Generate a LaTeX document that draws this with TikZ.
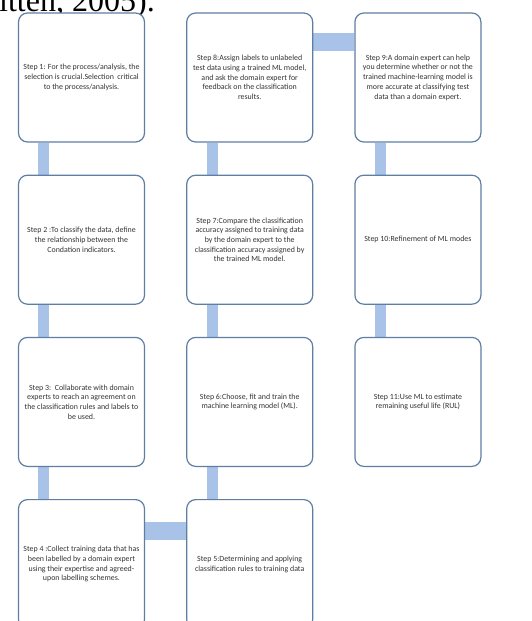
\documentclass[tikz,border=0pt]{standalone}
\usepackage{fontspec}
\setmainfont{Carlito}
\newfontfamily\headfont{Liberation Serif}
\usepackage{xcolor}
\usetikzlibrary{positioning,calc,backgrounds}
\definecolor{stepline}{HTML}{5E7EA3}
\definecolor{linkblue}{HTML}{A9C3E8}
\definecolor{steptext}{HTML}{333333}
\tikzset{
  stepbox/.style={draw=stepline,line width=1.2pt,rounded corners=9pt,fill=white,align=center,
    minimum width=126pt,minimum height=129pt,inner sep=3pt,text=steptext,
    font=\fontsize{7.9}{9.7}\selectfont},
  vlink/.style={linkblue,line width=11pt},
  hlink/.style={linkblue,line width=18pt},
}

\begin{document}
\begin{tikzpicture}[x=1pt,y=-1pt,node distance=32pt and 41pt]
\useasboundingbox (0,0) rectangle (531,621);
\clip (0,0) rectangle (531,621);
\node[anchor=base west,inner sep=0pt,font=\headfont\fontsize{32}{32}\selectfont] (cite) at (-1,12) {itten, 2005).};
% first column goes down
\node[stepbox] (s1) at (81.5,77.5) {Step 1: For the process/analysis, the\\ selection is crucial.Selection~~critical\\ to the process/analysis.};
\node[stepbox, below=of s1] (s2) {Step 2 :To classify the data, define\\ the relationship between the\\ Condation indicators.};
\node[stepbox, below=of s2] (s3) {Step 3:~~Collaborate with domain\\ experts to reach an agreement on\\ the classification rules and labels to\\ be used.};
\node[stepbox, below=of s3] (s4) {Step 4 :Collect training data that has\\ been labelled by a domain expert\\ using their expertise and agreed-\\ upon labelling schemes.};
% second column goes up
\node[stepbox, right=of s4] (s5) {Step 5:Determining and applying\\ classification rules to training data};
\node[stepbox, above=of s5] (s6) {Step 6:Choose, fit and train the\\ machine learning model (ML).};
\node[stepbox, above=of s6] (s7) {Step 7:Compare the classification\\ accuracy assigned to training data\\ by the domain expert to the\\ classification accuracy assigned by\\ the trained ML model.};
\node[stepbox, above=of s7] (s8) {Step 8:Assign labels to unlabeled\\ test data using a trained ML model,\\ and ask the domain expert for\\ feedback on the classification\\ results.};
% third column goes down
\node[stepbox, right=of s8] (s9) {Step 9:A domain expert can help\\ you determine whether or not the\\ trained machine-learning model is\\ more accurate at classifying test\\ data than a domain expert.};
\node[stepbox, below=of s9] (s10) {Step 10:Refinement of ML modes};
\node[stepbox, below=of s10] (s11) {Step 11:Use ML to estimate\\ remaining useful life (RUL)};
\begin{scope}[on background layer]
\foreach \a/\b in {s1/s2,s2/s3,s3/s4,s6/s5,s7/s6,s8/s7,s9/s10,s10/s11}
  \draw[vlink] ($(\a.south west)+(26,0)$) -- ($(\b.north west)+(26,0)$);
\draw[hlink] ($(s4.north east)+(0,32)$) -- ($(s5.north west)+(0,32)$);
\draw[hlink] ($(s8.north east)+(0,30)$) -- ($(s9.north west)+(0,30)$);
\end{scope}
\end{tikzpicture}
\end{document}
